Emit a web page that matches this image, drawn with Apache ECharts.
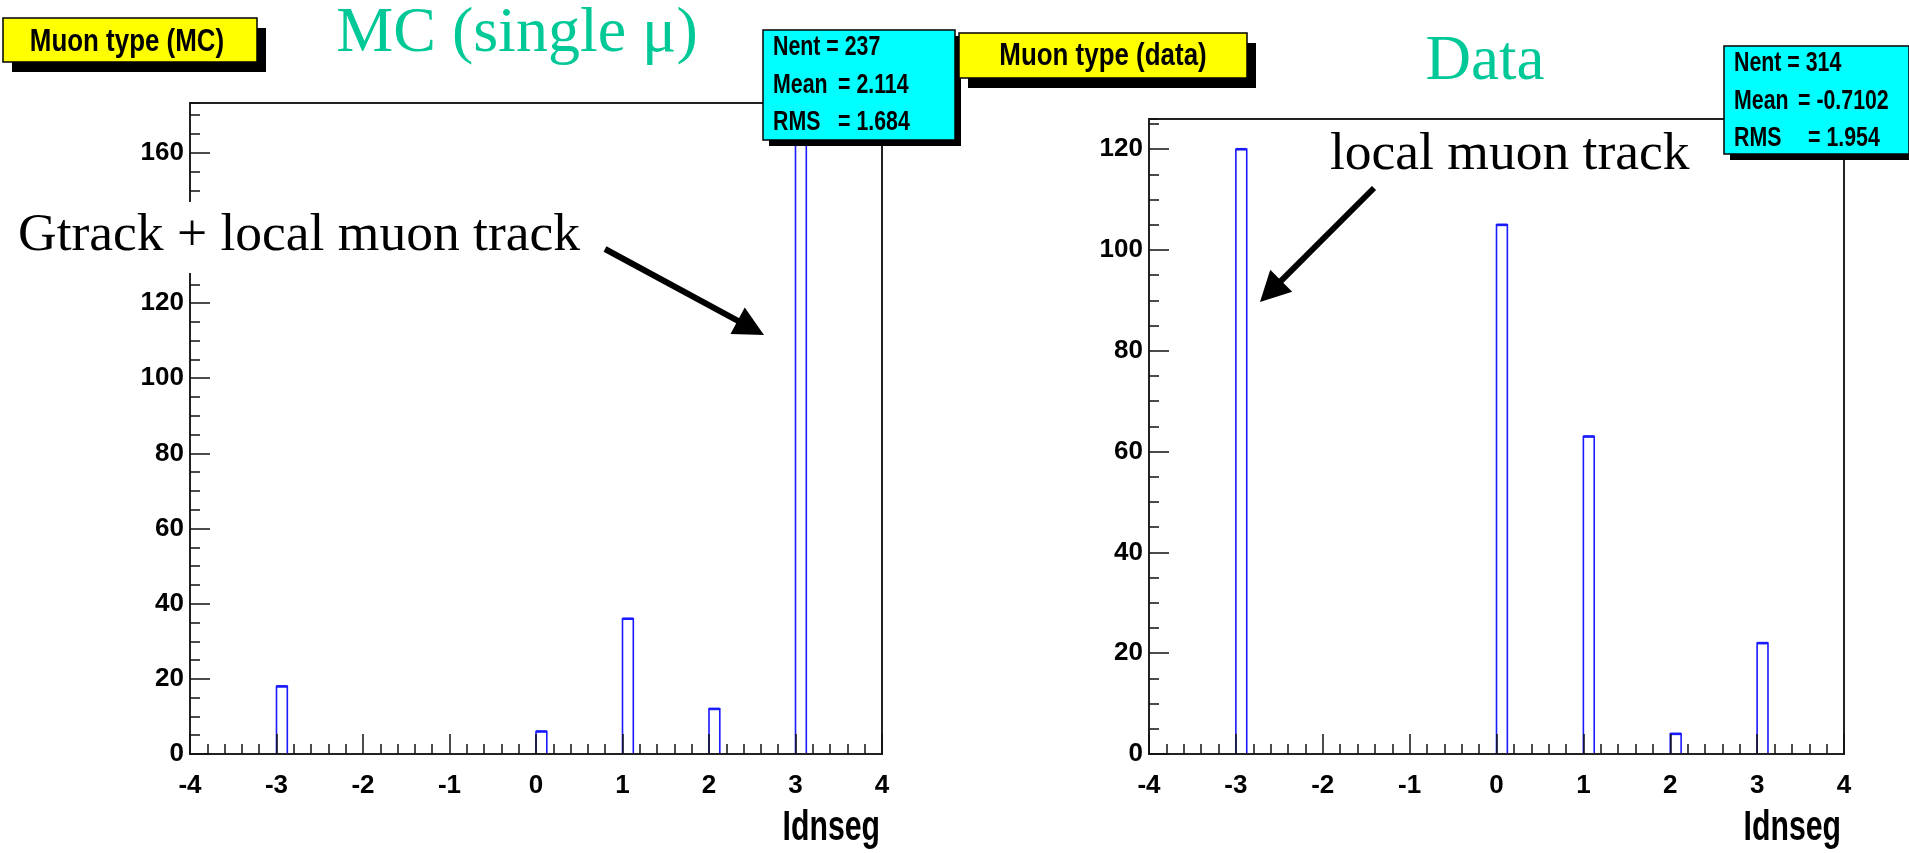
<!DOCTYPE html>
<html>
<head>
<meta charset="utf-8">
<script src="https://cdn.jsdelivr.net/npm/echarts@6/dist/echarts.min.js"></script>
<style>
  html, body { margin: 0; padding: 0; background: #ffffff; }
  #chart { width: 1909px; height: 853px; }
</style>
</head>
<body>
<div id="chart"></div>
<script>
// Muon type histograms: entries per Idnseg bin
const idnsegBins = [-3, 0, 1, 2, 3];
const mcCounts = [18, 6, 36, 12, 165];
const dataCounts = [120, 105, 63, 4, 22];
const binWidth = 0.125;

// x axis range and tick step
const xRange = [-4, 4];
const xStep = 1;
// y axis label step and minor tick step
const yStep = 20;
const yMinorStep = 5;

const SANS = "'Liberation Sans', Arial, Helvetica, sans-serif";
const SERIF = "'Liberation Serif', 'Times New Roman', Times, serif";
const TEAL = '#00c896';
const BLUE = '#1a1aff';

// summary numbers shown in the stat boxes
function stats(bins, counts) {
  let n = 0, sx = 0, sxx = 0;
  bins.forEach((b, i) => { n += counts[i]; sx += b * counts[i]; sxx += b * b * counts[i]; });
  const mean = sx / n;
  const rms = Math.sqrt(sxx / n - mean * mean);
  return { n: n, mean: mean.toPrecision(4), rms: rms.toPrecision(4) };
}
const mcStats = stats(idnsegBins, mcCounts);
const dataStats = stats(idnsegBins, dataCounts);

// histogram ceiling with a 5% top margin
const mcTop = Math.max(...mcCounts) * 1.05;
const dataTop = Math.max(...dataCounts) * 1.05;

function xAxisFor(gridIndex) {
  return {
    type: 'value', gridIndex: gridIndex, min: xRange[0], max: xRange[1], interval: xStep, z: 5,
    axisLine: { show: true, onZero: false, lineStyle: { color: '#222', width: 2 } },
    axisTick: { show: true, inside: true, length: 20, lineStyle: { color: '#111', width: 1.5 } },
    minorTick: { show: true, splitNumber: 5, length: 10, lineStyle: { color: '#111', width: 1.5 } },
    axisLabel: { margin: 19, fontFamily: SANS, fontWeight: 'bold', fontSize: 26, color: '#000' },
    splitLine: { show: false }, minorSplitLine: { show: false }
  };
}
function yAxisMajor(gridIndex, top) {
  return {
    type: 'value', gridIndex: gridIndex, position: 'left', min: 0, max: top, interval: yStep, z: 5,
    axisLine: { show: true, onZero: false, lineStyle: { color: '#222', width: 2 } },
    axisTick: { show: true, inside: true, length: 20, lineStyle: { color: '#111', width: 1.5 } },
    axisLabel: { margin: 6, showMaxLabel: false, padding: [6, 0, 0, 0],
                 fontFamily: SANS, fontWeight: 'bold', fontSize: 26, color: '#000' },
    splitLine: { show: false }
  };
}
function yAxisMinor(gridIndex, top) {
  return {
    type: 'value', gridIndex: gridIndex, position: 'left', min: 0, max: top, interval: yMinorStep, z: 5,
    axisLine: { show: false, onZero: false },
    axisTick: { show: true, inside: true, length: 10, lineStyle: { color: '#111', width: 1.5 } },
    axisLabel: { show: false },
    splitLine: { show: false }
  };
}

// each bin is drawn as an open outline: left edge, top, right edge
function renderBin(params, api) {
  const x0 = api.value(0);
  const n = api.value(1);
  const pLow = api.coord([x0, 0]);
  const pHigh = api.coord([x0 + binWidth, n]);
  return {
    type: 'group',
    children: [
      { type: 'polyline',
        shape: { points: [[pLow[0], pLow[1]], [pLow[0], pHigh[1]], [pHigh[0], pHigh[1]], [pHigh[0], pLow[1]]] },
        style: { stroke: BLUE, lineWidth: 1.6, fill: 'none' } },
      { type: 'line',
        shape: { x1: pLow[0], y1: pHigh[1], x2: pHigh[0], y2: pHigh[1] },
        style: { stroke: BLUE, lineWidth: 2.6 } }
    ]
  };
}

function boxWithShadow(x, y, w, h, fill, dx, dy) {
  return [
    { type: 'rect', z: 100, shape: { x: x + dx, y: y + dy, width: w, height: h }, style: { fill: '#000' } },
    { type: 'rect', z: 101, shape: { x: x, y: y, width: w, height: h },
      style: { fill: fill, stroke: '#000', lineWidth: 1.5 } }
  ];
}
function label(text, x, y, opts) {
  return {
    type: 'text', z: 102, x: x, y: y, scaleX: opts.scaleX || 1,
    style: { text: text, fill: opts.color || '#000', fontFamily: opts.family || SANS,
             fontWeight: opts.weight || 'normal', fontSize: opts.size,
             align: opts.align || 'left', verticalAlign: 'middle' }
  };
}
function arrow(tail, tip, lw, headLen, headW) {
  const dx = tip[0] - tail[0], dy = tip[1] - tail[1];
  const len = Math.sqrt(dx * dx + dy * dy);
  const ux = dx / len, uy = dy / len;
  const bx = tip[0] - ux * headLen, by = tip[1] - uy * headLen;
  const px = -uy * headW / 2, py = ux * headW / 2;
  return [
    { type: 'line', z: 102, shape: { x1: tail[0], y1: tail[1], x2: bx + ux * 2, y2: by + uy * 2 },
      style: { stroke: '#000', lineWidth: lw } },
    { type: 'polygon', z: 102, shape: { points: [[tip[0], tip[1]], [bx + px, by + py], [bx - px, by - py]] },
      style: { fill: '#000' } }
  ];
}

const statText = { size: 27, weight: 'bold', scaleX: 0.79 };

const graphics = [].concat(
  // histogram titles
  boxWithShadow(3, 18, 254, 44, '#ffff00', 9, 10),
  [label('Muon type (MC)', 127, 42, { size: 32, weight: 'bold', align: 'center', scaleX: 0.81 })],
  boxWithShadow(959, 33, 288, 45, '#ffff00', 9, 10),
  [label('Muon type (data)', 1103, 56, { size: 32, weight: 'bold', align: 'center', scaleX: 0.81 })],
  // headings
  [label('MC (single μ)', 517, 34, { size: 64, family: SERIF, color: TEAL, align: 'center' })],
  [label('Data', 1485, 62, { size: 63, family: SERIF, color: TEAL, align: 'center' })],
  // stat boxes
  boxWithShadow(763, 30, 192, 110, '#00ffff', 6, 6),
  [label('Nent = ' + mcStats.n, 773, 48, statText),
   label('Mean', 773, 86, statText), label('= ' + mcStats.mean, 838, 86, statText),
   label('RMS', 773, 123, statText), label('= ' + mcStats.rms, 838, 123, statText)],
  boxWithShadow(1724, 46, 185, 108, '#00ffff', 6, 6),
  [label('Nent = ' + dataStats.n, 1734, 64, statText),
   label('Mean', 1734, 102, statText), label('= ' + dataStats.mean, 1798, 102, statText),
   label('RMS', 1734, 139, statText), label('= ' + dataStats.rms, 1808, 139, statText)],
  // annotations
  [{ type: 'rect', z: 101, shape: { x: 10, y: 202, width: 580, height: 71 }, style: { fill: '#ffffff' } },
   label('Gtrack + local muon track', 18, 236, { size: 53.5, family: SERIF })],
  arrow([605, 249], [764, 335], 6, 30, 30),
  [label('local muon track', 1330, 155, { size: 53.5, family: SERIF })],
  arrow([1374, 188], [1260, 302], 6, 30, 31),
  // x axis titles
  [label('Idnseg', 880, 828, { size: 42, weight: 'bold', align: 'right', scaleX: 0.72 }),
   label('Idnseg', 1841, 828, { size: 42, weight: 'bold', align: 'right', scaleX: 0.72 })]
);

const chart = echarts.init(document.getElementById('chart'), null, { renderer: 'canvas' });
chart.setOption({
  animation: false,
  backgroundColor: '#ffffff',
  grid: [
    { left: 190, right: 1027, top: 103, bottom: 99, show: true, borderColor: '#222', borderWidth: 2,
      backgroundColor: 'transparent', outerBoundsMode: 'none' },
    { left: 1149, right: 65, top: 119, bottom: 99, show: true, borderColor: '#222', borderWidth: 2,
      backgroundColor: 'transparent', outerBoundsMode: 'none' }
  ],
  xAxis: [xAxisFor(0), xAxisFor(1)],
  yAxis: [yAxisMajor(0, mcTop), yAxisMinor(0, mcTop), yAxisMajor(1, dataTop), yAxisMinor(1, dataTop)],
  series: [
    { name: 'Muon type (MC)', type: 'custom', xAxisIndex: 0, yAxisIndex: 0,
      renderItem: renderBin, encode: { x: 0, y: 1 },
      data: idnsegBins.map((b, i) => [b, mcCounts[i]]) },
    { name: 'Muon type (data)', type: 'custom', xAxisIndex: 1, yAxisIndex: 2,
      renderItem: renderBin, encode: { x: 0, y: 1 },
      data: idnsegBins.map((b, i) => [b, dataCounts[i]]) }
  ],
  graphic: { elements: graphics }
});
</script>
</body>
</html>
